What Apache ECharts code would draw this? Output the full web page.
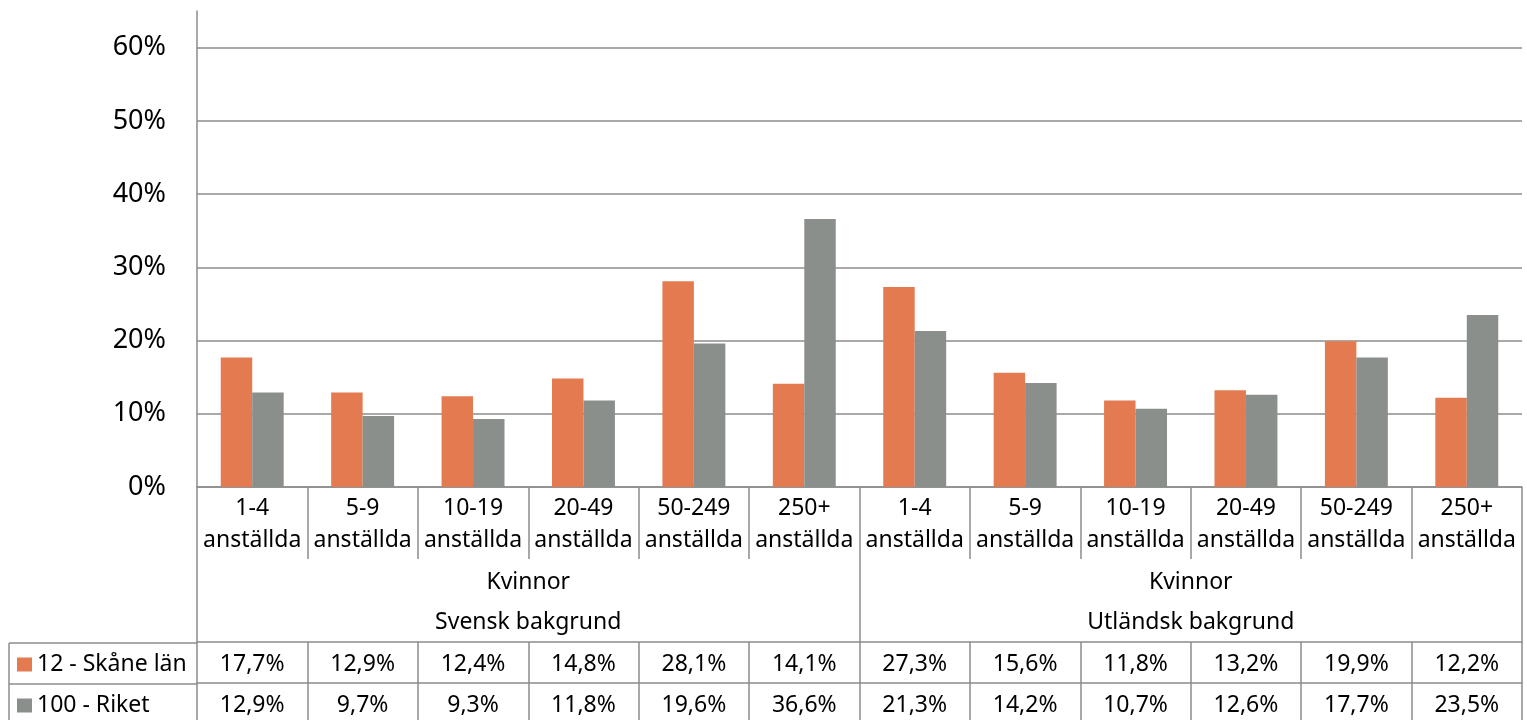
<!DOCTYPE html>
<html>
<head>
<meta charset="utf-8">
<script src="https://cdn.jsdelivr.net/npm/echarts@6/dist/echarts.min.js"></script>
<style>
html,body{margin:0;padding:0;background:#fff;}
#chart{width:1527px;height:720px;}
</style>
</head>
<body>
<div id="chart"></div>
<script>
// ---- data ----
const categories = ['1-4\nanställda','5-9\nanställda','10-19\nanställda','20-49\nanställda','50-249\nanställda','250+\nanställda',
                    '1-4\nanställda','5-9\nanställda','10-19\nanställda','20-49\nanställda','50-249\nanställda','250+\nanställda'];
const genderLabels = ['Kvinnor','Kvinnor'];
const backgroundLabels = ['Svensk bakgrund','Utländsk bakgrund'];
const seriesNames = ['12 - Skåne län','100 - Riket'];
const skaneValues = [17.7,12.9,12.4,14.8,28.1,14.1,27.3,15.6,11.8,13.2,19.9,12.2];
const riketValues = [12.9,9.7,9.3,11.8,19.6,36.6,21.3,14.2,10.7,12.6,17.7,23.5];
const yTicks = [0,10,20,30,40,50,60];

const fmt = v => v.toFixed(1).replace('.', ',') + '%';
const groupLabels = genderLabels.map((g,i) => g + '\n' + backgroundLabels[i]);

const gray = '#8c8c8c';
const orange = '#e47b50';
const barGray = '#8b8f8c';
const FONT = 'Noto Sans';
const FS = 23;

const chart = echarts.init(document.getElementById('chart'), null, {renderer:'canvas'});

const legendBase = {
  orient:'horizontal',left:17,itemWidth:15,itemHeight:14,icon:'rect',
  textStyle:{fontFamily:FONT,fontSize:FS,color:'#000'},
  selectedMode:false,padding:0
};

const option = {
  animation:false,
  textStyle:{fontFamily:FONT,color:'#000'},
  grid:{left:197,right:5,top:11,bottom:233,containLabel:false},
  legend:[
    Object.assign({}, legendBase, {top:653, data:[seriesNames[0]]}),
    Object.assign({}, legendBase, {top:694, data:[seriesNames[1]]})
  ],
  yAxis:{
    type:'value',min:0,max:65,interval:10,
    axisLine:{show:true,lineStyle:{color:gray,width:1.5}},
    axisTick:{show:false},
    splitLine:{show:true,showMaxLine:false,lineStyle:{color:gray,width:1.5}},
    axisLabel:{fontSize:27,color:'#000',margin:31,showMaxLabel:false,
      formatter:v => yTicks.indexOf(v) >= 0 ? v + '%' : ''}
  },
  xAxis:[
    {
      type:'category',data:categories,position:'bottom',
      axisLine:{show:true,lineStyle:{color:gray,width:1.5}},
      axisTick:{show:true,length:72,interval:0,lineStyle:{color:gray,width:1.5}},
      axisLabel:{interval:0,fontSize:FS,lineHeight:32,margin:5,color:'#000'}
    },
    {
      type:'category',data:groupLabels,position:'bottom',offset:72,
      axisLine:{show:false},
      axisTick:{show:true,length:83,interval:0,lineStyle:{color:gray,width:1.5}},
      axisLabel:{interval:0,fontSize:FS,lineHeight:40,margin:3,color:'#000'}
    },
    {
      type:'category',data:skaneValues.map(fmt),position:'bottom',offset:155,
      axisLine:{show:true,lineStyle:{color:gray,width:1.5}},
      axisTick:{show:true,length:41,interval:0,lineStyle:{color:gray,width:1.5}},
      axisLabel:{interval:0,fontSize:FS,lineHeight:24,margin:10,color:'#000'}
    },
    {
      type:'category',data:riketValues.map(fmt),position:'bottom',offset:196,
      axisLine:{show:true,lineStyle:{color:gray,width:1.5}},
      axisTick:{show:true,length:41,interval:0,lineStyle:{color:gray,width:1.5}},
      axisLabel:{interval:0,fontSize:FS,lineHeight:24,margin:10,color:'#000'}
    }
  ],
  series:[
    {name:seriesNames[0],type:'bar',data:skaneValues,xAxisIndex:0,
     itemStyle:{color:orange},barGap:'0%',barCategoryGap:'43%'},
    {name:seriesNames[1],type:'bar',data:riketValues,xAxisIndex:0,
     itemStyle:{color:barGray},barGap:'0%',barCategoryGap:'43%'}
  ],
  graphic:[
    {type:'line',shape:{x1:9,y1:643,x2:197,y2:643},style:{stroke:gray,lineWidth:1.5},silent:true},
    {type:'line',shape:{x1:9,y1:684,x2:197,y2:684},style:{stroke:gray,lineWidth:1.5},silent:true},
    {type:'line',shape:{x1:9,y1:643,x2:9,y2:720},style:{stroke:gray,lineWidth:1.5},silent:true}
  ]
};
chart.setOption(option);
</script>
</body>
</html>
